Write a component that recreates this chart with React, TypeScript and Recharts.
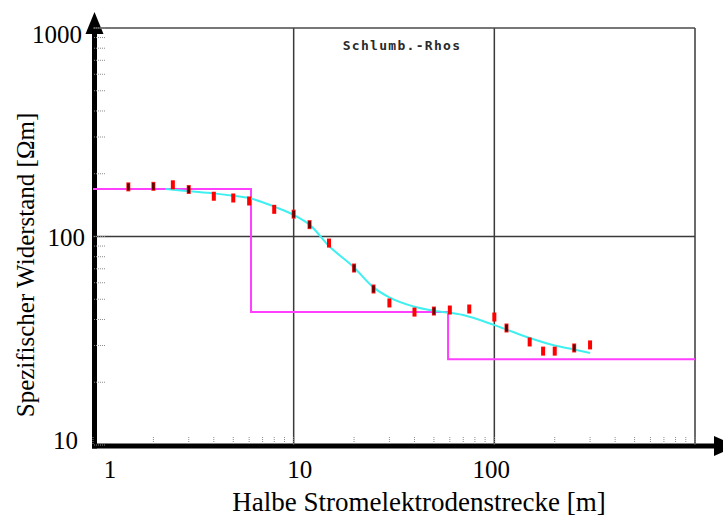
import { ComposedChart, XAxis, YAxis, Line, Scatter, ReferenceLine, Customized } from 'recharts'

// Messwerte (AB/2 in m, scheinbarer Widerstand in Ohm*m)
const SPACING = [1.5, 2, 2.5, 3, 4, 5, 6, 8, 10, 12, 15, 20, 25, 30, 40, 50, 60, 75, 100, 115, 150, 175, 200, 250, 300]
const RHO_A = [173, 174, 177, 168, 156, 153, 148, 135, 128, 114, 93, 70.6, 56, 48, 43.4, 43.9, 44.4, 44.9, 41.1, 36.4, 31.2, 28.2, 28.2, 29.2, 30.2]
const DARK_POINTS = [0, 1, 3, 8, 9, 11, 12, 15, 19, 23]

// Modellkurve (cyan)
const FIT_X = [2.3, 3, 4, 5, 6, 7, 8, 10, 12, 15, 20, 25, 30, 40, 50, 70, 100, 150, 200, 250, 300]
const FIT_RHO = [169, 165, 161, 157, 153, 146, 139, 127, 114, 90, 71, 57, 51, 46, 44, 42, 37.6, 32.6, 30, 28.7, 27.6]

// Schichtmodell (magenta)
const LAYER_RHO = [169, 43.4, 25.8]
const LAYER_BOUNDS = [6.13, 58.8]

const X_LABELS = [1, 10, 100]
const Y_LABELS = [10, 100, 1000]
const DECADES_X = [1, 10, 100]
const DECADES_Y = [10, 100]
const STEPS = [1, 2, 3, 4, 5, 6, 7, 8, 9]

const W = 723
const H = 516
const PLOT = { left: 93, top: 28, right: 695, bottom: 445 }
const SERIF = '"Liberation Serif", "Times New Roman", serif'

const xTicks = [...DECADES_X.flatMap((d) => STEPS.map((s) => s * d)), 1000]
const yTicks = [...DECADES_Y.flatMap((d) => STEPS.map((s) => s * d)), 1000]

const measured = SPACING.map((x, i) => ({ x, y: RHO_A[i], dark: DARK_POINTS.includes(i) }))
const fit = FIT_X.map((x, i) => ({ x, y: FIT_RHO[i] }))
const model = [
  ...[1, ...LAYER_BOUNDS].map((x, i) => ({ x, y: LAYER_RHO[i] })),
  { x: 1000, y: LAYER_RHO[LAYER_RHO.length - 1] },
]

// kleine Verschiebungen der Beschriftung wie im Original
const X_LABEL_DX: Record<number, number> = { 1: 17, 10: 6, 100: -3 }
const Y_LABEL_POS: Record<number, { x: number; dy: number }> = {
  1000: { x: 82, dy: 15 },
  100: { x: 85, dy: 9 },
  10: { x: 78, dy: 4 },
}

function XTick(props: any) {
  const v = props.payload?.value
  if (!X_LABELS.includes(v)) return <g />
  return (
    <text x={props.x + X_LABEL_DX[v]} y={PLOT.bottom + 33} textAnchor="middle" fontFamily={SERIF} fontSize={25} fill="#000">
      {v}
    </text>
  )
}

function YTick(props: any) {
  const v = props.payload?.value
  if (!Y_LABELS.includes(v)) return <g />
  const pos = Y_LABEL_POS[v]
  return (
    <text x={pos.x} y={props.y + pos.dy} textAnchor="end" fontFamily={SERIF} fontSize={25} fill="#000">
      {v}
    </text>
  )
}

function PointMark(props: any) {
  const { cx, cy, payload } = props
  if (payload.dark) {
    return (
      <g>
        <rect x={cx - 2} y={cy - 4.5} width={4} height={9} fill="#ff1a1a" />
        <rect x={cx - 1.3} y={cy - 3.5} width={2.6} height={7} fill="#5a0000" />
      </g>
    )
  }
  return <rect x={cx - 2} y={cy - 4.5} width={4} height={9} fill="#ff0000" />
}

function Decor() {
  const ax = 94.5
  const ay = 446
  return (
    <g>
      <line x1={ax} y1={ay + 2.5} x2={ax} y2={30} stroke="#000" strokeWidth={5} />
      <polygon points={`${ax - 9},34 ${ax},12 ${ax + 9},34`} fill="#000" />
      <line x1={ax - 2.5} y1={ay} x2={716} y2={ay} stroke="#000" strokeWidth={5} />
      <polygon points={`714,436 736,${ay} 714,456`} fill="#000" />
      <text x={402} y={50} textAnchor="middle" fontFamily='"DejaVu Sans Mono", monospace' fontSize={13} letterSpacing={1.3} fontWeight="bold" fill="#2a2a2a">
        Schlumb.-Rhos
      </text>
      <text x={419} y={511} textAnchor="middle" fontFamily={SERIF} fontSize={27} fill="#000">
        Halbe Stromelektrodenstrecke [m]
      </text>
      <text x={34} y={265} transform="rotate(-90, 34, 265)" textAnchor="middle" fontFamily={SERIF} fontSize={25} fill="#000">
        Spezifischer Widerstand [Ωm]
      </text>
    </g>
  )
}

export default function App() {
  return (
    <div style={{ position: 'absolute', left: 0, top: 0, width: W, height: H, background: '#fff' }}>
      <ComposedChart
        width={W}
        height={H}
        margin={{ top: PLOT.top - 1, right: W - PLOT.right - 1, bottom: 0, left: 0 }}
      >
        <XAxis
          dataKey="x"
          type="number"
          scale="log"
          domain={[1, 1000]}
          allowDataOverflow
          ticks={xTicks}
          interval={0}
          height={H - PLOT.bottom}
          axisLine={false}
          tickSize={-8}
          tickLine={{ stroke: '#8c8c8c', strokeDasharray: '1 1' }}
          tick={(p: any) => <XTick {...p} />}
        />
        <XAxis
          xAxisId="top"
          orientation="top"
          type="number"
          scale="log"
          domain={[1, 1000]}
          allowDataOverflow
          ticks={xTicks}
          interval={0}
          height={1}
          axisLine={false}
          tickSize={-8}
          tickLine={{ stroke: '#9a9a9a' }}
          tick={false}
        />
        <YAxis
          dataKey="y"
          type="number"
          scale="log"
          domain={[10, 1000]}
          allowDataOverflow
          ticks={yTicks}
          interval={0}
          width={PLOT.left}
          axisLine={false}
          tickSize={-12}
          tickLine={{ stroke: '#8c8c8c', strokeDasharray: '1 1' }}
          tick={(p: any) => <YTick {...p} />}
        />
        <YAxis
          yAxisId="right"
          orientation="right"
          type="number"
          scale="log"
          domain={[10, 1000]}
          allowDataOverflow
          ticks={yTicks}
          interval={0}
          width={1}
          axisLine={false}
          tickSize={-12}
          tickLine={{ stroke: '#8c8c8c', strokeDasharray: '1 1' }}
          tick={false}
        />
        <ReferenceLine x={10} stroke="#3a3a3a" strokeWidth={1.5} />
        <ReferenceLine x={100} stroke="#3a3a3a" strokeWidth={1.5} />
        <ReferenceLine x={1000} stroke="#3a3a3a" strokeWidth={1.5} />
        <ReferenceLine y={100} stroke="#3a3a3a" strokeWidth={1.5} />
        <ReferenceLine y={1000} stroke="#4a4a4a" strokeWidth={1.5} />
        <Line data={model} dataKey="y" type="stepAfter" stroke="#ff40ff" strokeWidth={2} dot={false} isAnimationActive={false} />
        <Line data={fit} dataKey="y" type="monotone" stroke="#40f0f0" strokeWidth={2} dot={false} isAnimationActive={false} />
        <Scatter data={measured} shape={(p: any) => <PointMark {...p} />} isAnimationActive={false} />
        <Customized component={<Decor />} />
      </ComposedChart>
    </div>
  )
}
